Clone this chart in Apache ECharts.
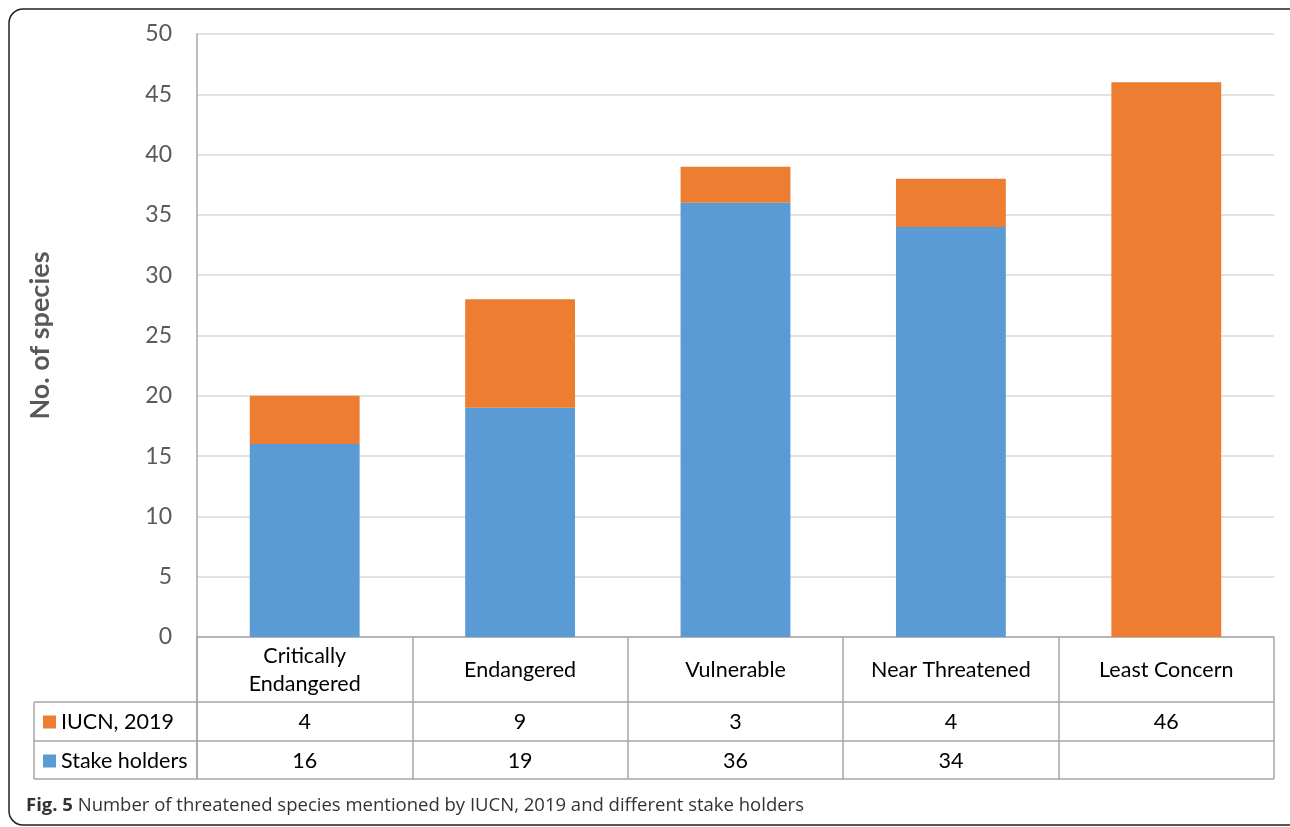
<!DOCTYPE html>
<html>
<head>
<meta charset="utf-8">
<script src="https://cdn.jsdelivr.net/npm/echarts@6/dist/echarts.min.js"></script>
<style>
  html, body { margin: 0; padding: 0; background: #fff; }
  #chart { width: 1290px; height: 827px; }
</style>
</head>
<body>
<div id="chart"></div>
<script>
// data
const categories = ['Critically\nEndangered', 'Endangered', 'Vulnerable', 'Near Threatened', 'Least Concern']
const iucnValues = [4, 9, 3, 4, 46]
const stakeValues = [16, 19, 36, 34, null]
const seriesNames = ['IUCN, 2019', 'Stake holders']

const font = 'Lato, "Open Sans", sans-serif'
const lineColor = '#a6a6a6'
const cellFontSize = 21.5

const chart = echarts.init(document.getElementById('chart'))

const gridLeft = 197
const gridRight = 1274
const tableLeft = 34
const rowLines = [702, 741, 779]

chart.setOption({
  animation: false,
  grid: { left: gridLeft, right: 1290 - gridRight, top: 34, bottom: 827 - 637 },
  legend: {
    orient: 'vertical',
    left: 38,
    top: 706,
    itemWidth: 13,
    itemHeight: 13,
    itemGap: 17,
    icon: 'rect',
    data: seriesNames,
    textStyle: { fontFamily: font, fontSize: cellFontSize, lineHeight: 20, color: '#000' }
  },
  xAxis: {
    type: 'category',
    data: categories,
    axisLine: { lineStyle: { color: lineColor, width: 1.5 } },
    axisTick: { show: true, length: 142, interval: 0, lineStyle: { color: lineColor, width: 1.5 } },
    axisLabel: {
      interval: 0, margin: 33, verticalAlign: 'middle',
      fontFamily: font, fontSize: cellFontSize, color: '#000', lineHeight: 28
    }
  },
  yAxis: {
    type: 'value',
    min: 0,
    max: 50,
    interval: 5,
    name: 'No. of species',
    nameLocation: 'middle',
    nameGap: 143,
    nameTextStyle: { fontFamily: font, fontSize: 27, fontWeight: 'bold', color: '#595959' },
    axisLine: { show: true, lineStyle: { color: lineColor, width: 1.5 } },
    axisLabel: { margin: 25, fontFamily: font, fontSize: 23, color: '#595959' },
    splitLine: { lineStyle: { color: '#d9d9d9', width: 1.5 } }
  },
  series: [
    {
      name: 'Stake holders',
      type: 'bar',
      stack: 'total',
      barWidth: '51%',
      itemStyle: { color: '#5b9bd5' },
      data: stakeValues
    },
    {
      name: 'IUCN, 2019',
      type: 'bar',
      stack: 'total',
      barWidth: '51%',
      itemStyle: { color: '#ed7d31' },
      data: iucnValues
    }
  ]
})

// data table below the axis
const graphics = []
const lineStyle = { stroke: lineColor, lineWidth: 1.5 }
rowLines.forEach(y => {
  graphics.push({ type: 'line', shape: { x1: tableLeft, y1: y, x2: gridRight, y2: y }, style: lineStyle })
})
graphics.push({ type: 'line', shape: { x1: tableLeft, y1: rowLines[0], x2: tableLeft, y2: rowLines[2] }, style: lineStyle })
graphics.push({ type: 'line', shape: { x1: gridLeft, y1: 637, x2: gridLeft, y2: rowLines[2] }, style: lineStyle })

const rows = [iucnValues, stakeValues]
rows.forEach((vals, r) => {
  const cy = (rowLines[r] + rowLines[r + 1]) / 2 + 1
  vals.forEach((v, i) => {
    if (v == null) return
    const cx = chart.convertToPixel({ xAxisIndex: 0 }, i)
    graphics.push({
      type: 'text',
      x: cx,
      y: cy,
      style: { text: String(v), fontFamily: font, fontSize: cellFontSize, fill: '#000', align: 'center', verticalAlign: 'middle' }
    })
  })
})

// caption
graphics.push({
  type: 'text',
  x: 26,
  y: 806,
  style: {
    text: '{b|Fig. 5} Number of threatened species mentioned by IUCN, 2019 and different stake holders',
    verticalAlign: 'middle',
    fontFamily: '"Open Sans", sans-serif',
    fontSize: 18.5,
    fill: '#333',
    rich: { b: { fontFamily: '"Open Sans", sans-serif', fontSize: 18.5, fontWeight: 'bold', fill: '#333' } }
  }
})

// frame
graphics.push({
  type: 'rect',
  shape: { x: 9, y: 9, width: 1300, height: 816, r: 14 },
  style: { fill: 'none', stroke: '#222', lineWidth: 1.5 },
  silent: true
})

chart.setOption({ graphic: graphics })
</script>
</body>
</html>
